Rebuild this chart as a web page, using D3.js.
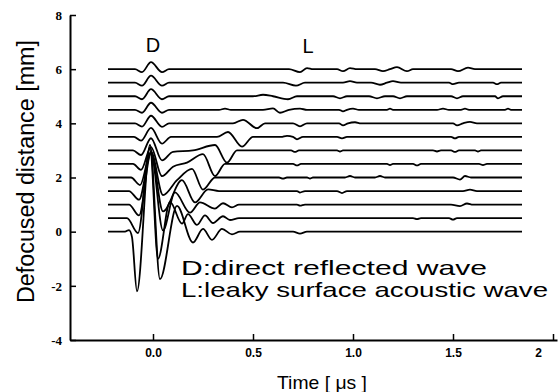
<!DOCTYPE html>
<html>
<head>
<meta charset="utf-8">
<script src="https://cdn.jsdelivr.net/npm/d3@7"></script>
<style>
	body { margin: 0; background: #fff; }
	svg { display: block; }
</style>
</head>
<body>
<div id="chart"></div>
<script>
'use strict';

//Defocus offset of each trace [mm], bottom to top
var offsets = [0, 0.5, 1.0, 1.5, 2.0, 2.5, 3.0, 3.5, 4.0, 4.5, 5.0, 5.5, 6.0];

//Waveforms: [time (us), amplitude (mm)]
var wave00 = [[-0.225,0],[-0.14,0],[-0.12,0.06],[-0.105,-0.2],[-0.08,-2.2],[-0.015,3.2],[0.035,-1.75],[0.12,0.95],[0.2,-0.4],[0.25,0.1],[0.295,-0.3],[0.345,0.1],[0.395,-0.1],[0.435,0],[0.7,0],[0.735,-0.07],[0.77,0],[1.845,0]];
var wave01 = [[-0.225,0],[-0.13,0],[-0.075,-0.55],[-0.015,2.6],[0.025,-1.5],[0.085,0.6],[0.145,-0.2],[0.175,0.15],[0.22,-0.25],[0.26,0.1],[0.3,-0.18],[0.35,0.07],[0.385,-0.07],[0.43,0],[1.3,0],[1.32,-0.04],[1.34,0],[1.48,0],[1.5,-0.055],[1.52,0],[1.845,0]];
var wave02 = [[-0.225,0],[-0.12,0],[-0.07,-0.4],[-0.01,1.9],[0.05,-0.95],[0.11,0.45],[0.185,-0.3],[0.235,0.08],[0.31,-0.15],[0.35,0.05],[0.395,-0.1],[0.43,0],[0.72,0],[0.735,-0.04],[0.76,0],[1.49,0],[1.535,-0.055],[1.57,0.04],[1.6,0],[1.845,0]];
var wave03 = [[-0.225,0],[-0.12,0],[-0.07,-0.32],[-0.01,1.4],[0.05,-0.75],[0.145,0.4],[0.21,-0.42],[0.275,0.06],[0.33,0],[0.72,0],[0.735,-0.055],[0.76,0],[0.92,0],[0.945,-0.075],[0.97,0],[1.55,0],[1.585,0.055],[1.62,0],[1.845,0]];
var wave04 = [[-0.225,0],[-0.11,0],[-0.065,-0.28],[-0.01,0.95],[0.05,-0.65],[0.12,-0.1],[0.195,0.32],[0.25,-0.45],[0.31,0],[0.63,0],[0.65,-0.04],[0.67,0],[0.77,0],[0.785,-0.04],[0.8,0],[0.96,0],[0.985,0.055],[1.01,0],[1.11,0],[1.135,0.055],[1.16,0],[1.5,0],[1.535,-0.075],[1.56,0.055],[1.59,0],[1.845,0]];
var wave05 = [[-0.225,0],[-0.1,0],[-0.06,-0.22],[-0.01,0.62],[0.045,-0.45],[0.1,-0.1],[0.17,0.05],[0.25,0.36],[0.31,-0.45],[0.36,0],[0.7,0],[0.72,-0.055],[0.74,0],[1.17,0],[1.185,-0.04],[1.2,0],[1.3,0],[1.32,-0.055],[1.34,0],[1.63,0],[1.65,-0.04],[1.67,0],[1.845,0]];
var wave06 = [[-0.225,0],[-0.1,0],[-0.06,-0.17],[-0.01,0.45],[0.045,-0.37],[0.1,-0.05],[0.2,0],[0.31,0.2],[0.37,-0.45],[0.42,0],[0.69,0],[0.71,-0.055],[0.73,0],[0.92,0],[0.935,-0.04],[0.95,0],[1.4,0],[1.42,-0.04],[1.44,0],[1.49,0],[1.51,-0.055],[1.53,0],[1.61,0],[1.625,-0.04],[1.64,0],[1.845,0]];
var wave07 = [[-0.225,0],[-0.095,0],[-0.06,-0.14],[-0.01,0.33],[0.045,-0.25],[0.09,0],[0.32,0],[0.375,0.18],[0.445,-0.36],[0.5,0],[0.64,0],[0.67,0.04],[0.7,0],[0.72,-0.09],[0.75,0],[0.92,0],[0.945,-0.055],[0.97,0],[1.49,0],[1.51,-0.055],[1.53,0],[1.845,0]];
var wave08 = [[-0.225,0],[-0.09,0],[-0.055,-0.12],[-0.01,0.28],[0.045,-0.13],[0.08,0],[0.4,0],[0.45,0.13],[0.52,-0.18],[0.56,0],[0.7,0],[0.735,-0.11],[0.77,0],[0.93,0],[0.95,-0.075],[0.975,0],[1.01,0.04],[1.04,0],[1.5,0],[1.52,-0.075],[1.55,0],[1.585,0.055],[1.62,0],[1.845,0]];
var wave09 = [[-0.225,0],[-0.09,0],[-0.055,-0.11],[-0.01,0.26],[0.045,-0.11],[0.08,0],[0.33,0],[0.36,0.04],[0.39,0],[0.55,0],[0.6,0.05],[0.635,-0.11],[0.68,0],[0.735,0.04],[0.77,0],[0.93,0],[0.95,-0.055],[0.97,0],[1.0,0.04],[1.03,0],[1.17,0],[1.185,0.04],[1.2,0],[1.42,0],[1.45,0.04],[1.48,0],[1.54,0],[1.56,0.04],[1.58,0],[1.76,0],[1.775,0.04],[1.79,0],[1.845,0]];
var wave10 = [[-0.225,0],[-0.09,0],[-0.055,-0.11],[-0.01,0.26],[0.045,-0.11],[0.08,0],[0.5,0],[0.55,0.055],[0.6,0],[0.675,-0.11],[0.72,0],[0.9,0],[0.935,-0.075],[0.97,0],[1.08,0],[1.12,-0.075],[1.16,0],[1.2,0],[1.235,-0.075],[1.27,0],[1.49,0],[1.52,-0.075],[1.55,0],[1.71,0],[1.725,-0.075],[1.75,0],[1.845,0]];
var wave11 = [[-0.225,0],[-0.09,0],[-0.055,-0.11],[-0.01,0.26],[0.045,-0.11],[0.08,0],[0.65,0],[0.715,-0.11],[0.76,0],[0.95,0],[0.985,0.055],[1.02,0],[1.09,0],[1.135,-0.075],[1.17,0],[1.2,0.055],[1.24,0],[1.48,0],[1.5,-0.055],[1.53,0],[1.7,0],[1.72,-0.055],[1.74,0],[1.845,0]];
var wave12 = [[-0.225,0],[-0.09,0],[-0.055,-0.11],[-0.01,0.26],[0.045,-0.11],[0.08,0],[0.68,0],[0.735,-0.11],[0.77,0.04],[0.8,0],[0.92,0],[0.95,-0.075],[0.985,0.04],[1.02,0],[1.11,0],[1.15,-0.075],[1.185,0],[1.22,0.075],[1.27,-0.075],[1.3,0],[1.49,0],[1.525,-0.075],[1.575,0.055],[1.61,0],[1.845,0]];
var waves = [wave00, wave01, wave02, wave03, wave04, wave05, wave06, wave07, wave08, wave09, wave10, wave11, wave12];

//Tick values and labels
var xTicks = [0, 0.5, 1.0, 1.5, 2];
var xTickLabels = ['0.0', '0.5', '1.0', '1.5', '2'];
var yTicks = [-4, -2, 0, 2, 4, 6, 8];

var width = 558, height = 392;

var svg = d3.select('#chart').append('svg')
	.attr('width', width)
	.attr('height', height);

/***************************************
 * SCALES
 ***************************************/
var x = d3.scaleLinear().domain([-0.415, 2.02]).range([70, 557]);
var y = d3.scaleLinear().domain([-4, 8]).range([340, 15]);

/***************************************
 * TRACES
 ***************************************/
var line = d3.line()
	.curve(d3.curveMonotoneX);

svg.append('g').selectAll('path')
	.data(waves)
	.enter().append('path')
		.attr('fill', 'none')
		.attr('stroke', '#000')
		.attr('stroke-width', 1.8)
		.attr('stroke-linejoin', 'round')
		.attr('d', function(d, i) {
			return line.x(function(p) { return x(p[0]); })
				.y(function(p) { return y(offsets[i] + p[1]); })(d);
		});

/***************************************
 * AXES
 ***************************************/
//y
var yAxis = svg.append('g')
	.attr('transform', 'translate(' + x(-0.415) + ',0)')
	.call(d3.axisLeft(y)
		.tickValues(yTicks)
		.tickFormat(function(d) { return String(d); })
		.tickSize(-6)
		.tickSizeOuter(0)
		.tickPadding(8));
yAxis.select('.domain').attr('stroke-width', 2);
yAxis.selectAll('.tick line').attr('stroke-width', 1.5);
yAxis.selectAll('.tick text')
	.style('font-family', '"Liberation Serif", serif')
	.style('font-weight', 'bold')
	.style('font-size', '13px')
	.attr('fill', '#000');

//x
var xAxis = svg.append('g')
	.attr('transform', 'translate(0,' + y(-4) + ')')
	.call(d3.axisBottom(x)
		.tickValues(xTicks)
		.tickFormat(function(d, i) { return xTickLabels[i]; })
		.tickSize(-6)
		.tickSizeOuter(0)
		.tickPadding(8));
xAxis.select('.domain').attr('stroke-width', 2);
xAxis.selectAll('.tick line').attr('stroke-width', 1.5);
xAxis.selectAll('.tick text')
	.style('font-family', '"Liberation Sans", Arial, sans-serif')
	.style('font-weight', 'bold')
	.style('font-size', '12px')
	.attr('fill', '#000');
//last label sits inside the frame edge
xAxis.selectAll('.tick text').filter(function(d) { return d === 2; })
	.attr('dx', -15);

/***************************************
 * TITLES AND ANNOTATIONS
 ***************************************/
var sans = '"Liberation Sans", Arial, sans-serif';

svg.append('text')
	.attr('transform', 'translate(34,171.5) rotate(-90)')
	.attr('text-anchor', 'middle')
	.attr('textLength', 263)
	.attr('lengthAdjust', 'spacingAndGlyphs')
	.style('font-family', sans)
	.style('font-size', '23px')
	.text('Defocused distance [mm]');

svg.append('text')
	.attr('x', 322)
	.attr('y', 389)
	.attr('text-anchor', 'middle')
	.attr('textLength', 90)
	.attr('lengthAdjust', 'spacingAndGlyphs')
	.style('font-family', sans)
	.style('font-size', '19px')
	.text('Time [ \u03bcs ]');

svg.append('text')
	.attr('x', x(0))
	.attr('y', 52)
	.attr('text-anchor', 'middle')
	.style('font-family', sans)
	.style('font-size', '20px')
	.text('D');

svg.append('text')
	.attr('x', x(0.775))
	.attr('y', 53)
	.attr('text-anchor', 'middle')
	.style('font-family', sans)
	.style('font-size', '20px')
	.text('L');

svg.append('text')
	.attr('x', 181)
	.attr('y', 275)
	.attr('textLength', 306)
	.attr('lengthAdjust', 'spacingAndGlyphs')
	.style('font-family', sans)
	.style('font-size', '21px')
	.text('D:direct reflected wave');

svg.append('text')
	.attr('x', 181)
	.attr('y', 297)
	.attr('textLength', 367)
	.attr('lengthAdjust', 'spacingAndGlyphs')
	.style('font-family', sans)
	.style('font-size', '21px')
	.text('L:leaky surface acoustic wave');
</script>
</body>
</html>
